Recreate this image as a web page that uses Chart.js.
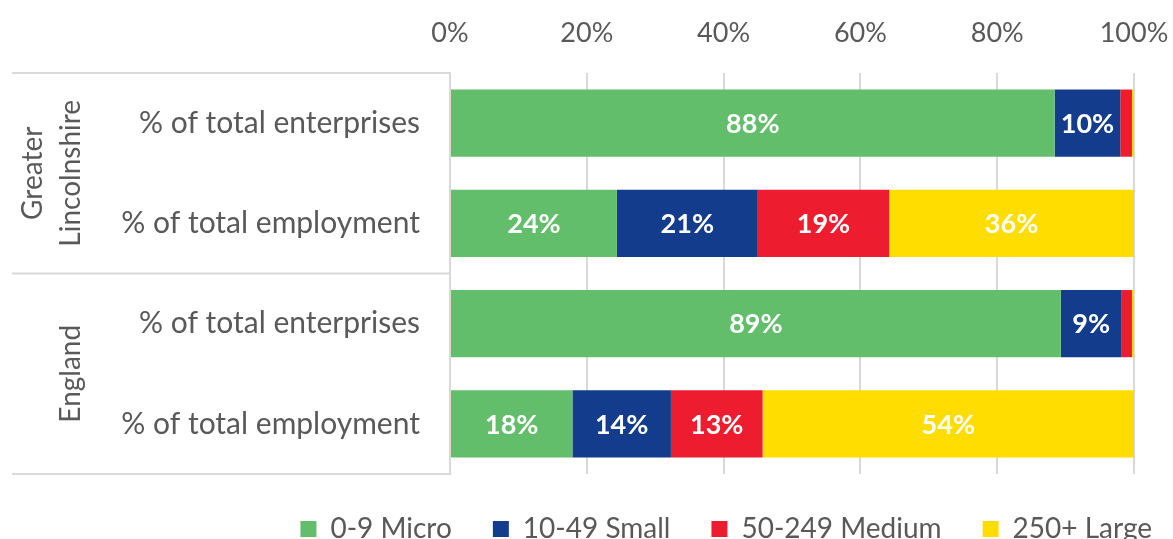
<!DOCTYPE html>
<html>
<head>
<meta charset="utf-8">
<script src="https://cdn.jsdelivr.net/npm/chart.js@4"></script>
<style>
  body { margin: 0; background: #fff; }
  #wrap { width: 1173px; height: 539px; position: relative; }
</style>
</head>
<body>
<div id="wrap"><canvas id="chart"></canvas></div>
<script>
// regions are the outer y groups, measures the inner rows
const regions = [["Greater", "Lincolnshire"], ["England"]];
const measures = ["% of total enterprises", "% of total employment"];
const sizeBands = ["0-9 Micro", "10-49 Small", "50-249 Medium", "250+ Large"];
const xTicks = [0, 20, 40, 60, 80, 100];

// per row: GL enterprises, GL employment, England enterprises, England employment
const micro = [88.4, 24.4, 89.3, 17.9];
const small = [9.6, 20.6, 8.9, 14.4];
const medium = [1.7, 19.2, 1.5, 13.4];
const large = [0.3, 35.8, 0.3, 54.3];

const colours = ["#63BE6B", "#143C8C", "#ED1C2E", "#FFDD00"];
const FONT = "Lato";
const GREY = "#595959";
const LINE = "#D9D9D9";

const labels = [];
regions.forEach(() => measures.forEach((m) => labels.push(m)));

const seriesValues = [micro, small, medium, large];

// white % labels inside the segments
const barLabels = {
  id: "barLabels",
  afterDatasetsDraw(chart) {
    const ctx = chart.ctx;
    ctx.save();
    ctx.fillStyle = "#fff";
    ctx.font = "bold 27px " + FONT;
    ctx.textAlign = "center";
    ctx.textBaseline = "middle";
    chart.data.datasets.forEach((ds, i) => {
      const meta = chart.getDatasetMeta(i);
      meta.data.forEach((bar, j) => {
        const v = ds.data[j];
        if (v < 5) return;
        ctx.fillText(Math.round(v) + "%", (bar.x + bar.base) / 2, bar.y + 1);
      });
    });
    ctx.restore();
  },
};

// table lines and rotated group names on the left
const groupLabels = {
  id: "groupLabels",
  afterDraw(chart) {
    const ctx = chart.ctx;
    const area = chart.chartArea;
    const step = (area.bottom - area.top) / labels.length;
    ctx.save();
    ctx.strokeStyle = LINE;
    ctx.lineWidth = 2;
    for (let g = 0; g <= regions.length; g++) {
      const yy = area.top + g * measures.length * step;
      ctx.beginPath();
      ctx.moveTo(12, yy);
      ctx.lineTo(area.left, yy);
      ctx.stroke();
    }
    ctx.fillStyle = GREY;
    ctx.font = "28px " + FONT;
    ctx.textAlign = "center";
    ctx.textBaseline = "middle";
    regions.forEach((lines, g) => {
      const cy = area.top + (g + 0.5) * measures.length * step;
      lines.forEach((t, k) => {
        const cx = 71 - (lines.length - 1 - k) * 38;
        ctx.save();
        ctx.translate(cx, cy);
        ctx.rotate(-Math.PI / 2);
        ctx.fillText(t, 0, 0);
        ctx.restore();
      });
    });
    ctx.restore();
  },
};

new Chart(document.getElementById("chart"), {
  type: "bar",
  data: {
    labels: labels,
    datasets: sizeBands.map((name, i) => ({
      label: name,
      data: seriesValues[i],
      backgroundColor: colours[i],
      borderWidth: 0,
      categoryPercentage: 0.67,
      barPercentage: 1,
    })),
  },
  options: {
    indexAxis: "y",
    responsive: true,
    maintainAspectRatio: false,
    animation: false,
    layout: { padding: { left: 12, right: -20, top: 0, bottom: -14 } },
    scales: {
      x: {
        position: "top",
        stacked: true,
        min: 0,
        max: 100,
        afterBuildTicks: (s) => { s.ticks = xTicks.map((v) => ({ value: v })); },
        afterFit: (s) => {
          s.height = 73;
          s.paddingRight = 39;
          s.paddingLeft = 0;
        },
        ticks: {
          callback: (v) => v + "%",
          color: GREY,
          font: { family: FONT, size: 27 },
          padding: 24,
          maxRotation: 0,
        },
        grid: { color: LINE, lineWidth: 2, drawTicks: false },
        border: { display: false },
      },
      y: {
        stacked: true,
        afterFit: (s) => { s.width = 438; },
        ticks: {
          color: GREY,
          font: { family: FONT, size: 30 },
          padding: 30,
        },
        grid: { display: false, drawTicks: false },
        border: { color: LINE, width: 2 },
      },
    },
    plugins: {
      legend: {
        position: "bottom",
        align: "end",
        labels: {
          color: GREY,
          font: { family: FONT, size: 28 },
          boxWidth: 16,
          boxHeight: 16,
          padding: 41,
        },
      },
      tooltip: { enabled: false },
    },
  },
  plugins: [barLabels, groupLabels],
});
</script>
</body>
</html>
